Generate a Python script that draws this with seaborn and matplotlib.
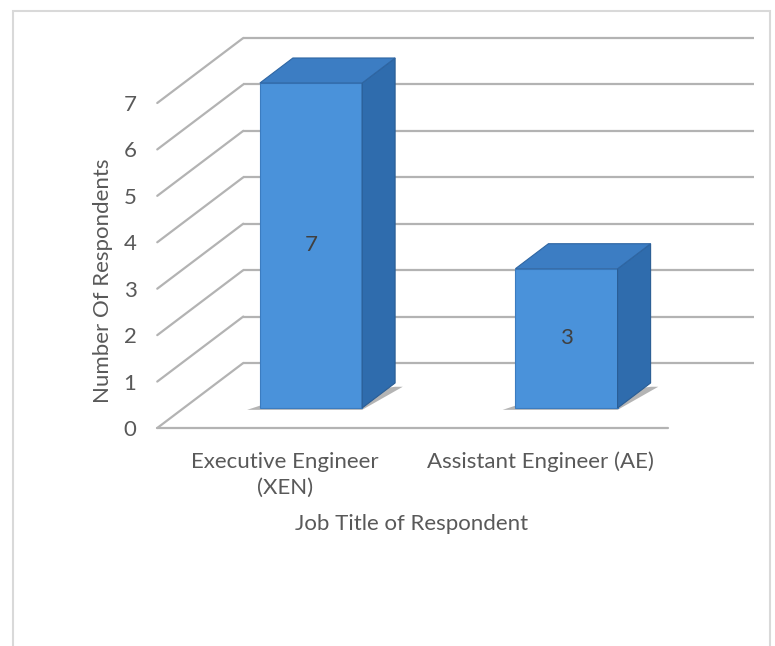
import numpy as np
import seaborn as sns
import matplotlib.pyplot as plt
from matplotlib.patches import Polygon, Rectangle

job_titles = ['Executive Engineer\n(XEN)', 'Assistant Engineer (AE)']
respondents = [7, 3]
y_ticks = [0, 1, 2, 3, 4, 5, 6, 7]

sns.set_style('white')
plt.rcParams['font.family'] = ['Lato', 'DejaVu Sans']
text_col = '#595959'
grid_col = '#b3b3b3'
fs = 16

# pixel scale of the fake 3d view (front plane of the bars)
cat_px, unit_px = 255.5, 46.43
bar_dx, bar_dy = 33 / cat_px, 25 / unit_px        # bar depth
wall_dx, wall_dy = 60 / cat_px, 45 / unit_px      # back wall
floor_dx, floor_dy = -26 / cat_px, -20 / unit_px  # front edge of floor

xlim = (-0.5 + floor_dx, 1.75)
ylim = (floor_dy, 8.2)
x0_px, y0_px = 311, 408
left = x0_px + xlim[0] * cat_px
right = x0_px + xlim[1] * cat_px
bottom = y0_px - ylim[0] * unit_px
top = y0_px - ylim[1] * unit_px

fig = plt.figure(figsize=(7.75, 6.46), dpi=100)
ax = fig.add_axes([left / 775, 1 - bottom / 646, (right - left) / 775, (bottom - top) / 646])

sns.barplot(x=job_titles, y=respondents, width=0.4, color='#4a92da', saturation=1,
            edgecolor='#3b7cc0', linewidth=0.8, ax=ax, zorder=3)

# back wall and side wall gridlines
for v in y_ticks:
    ax.plot([-0.5 + wall_dx, 1.5 + wall_dx], [v + wall_dy, v + wall_dy],
            color=grid_col, lw=1.6, zorder=1, solid_capstyle='butt')
    ax.plot([-0.5 + floor_dx, -0.5 + wall_dx], [v + floor_dy, v + wall_dy],
            color=grid_col, lw=1.6, zorder=1, clip_on=False)
ax.plot([-0.5 + floor_dx, 1.5 + floor_dx], [floor_dy, floor_dy],
        color=grid_col, lw=1.6, zorder=1, clip_on=False)

# shadow, top and side faces of each bar
for p in ax.patches[:len(respondents)]:
    x, w, h = p.get_x(), p.get_width(), p.get_height()
    shadow = Polygon([(x - 0.05, -0.04), (x + w, -0.04), (x + w + bar_dx + 0.03, bar_dy * 0.85),
                      (x + w + bar_dx, bar_dy * 0.85), (x, 0.05)], closed=True,
                     color='#2a2a2a', alpha=0.35, lw=0, zorder=2)
    ax.add_patch(shadow)
    side = Polygon([(x + w, 0), (x + w + bar_dx, bar_dy), (x + w + bar_dx, h + bar_dy), (x + w, h)],
                   closed=True, facecolor='#2f6cad', edgecolor='#2a5d94', lw=0.8, zorder=3)
    topf = Polygon([(x, h), (x + w, h), (x + w + bar_dx, h + bar_dy), (x + bar_dx, h + bar_dy)],
                   closed=True, facecolor='#3c7dc3', edgecolor='#2f66a3', lw=0.8, zorder=3)
    ax.add_patch(side)
    ax.add_patch(topf)

ax.bar_label(ax.containers[0], label_type='center', color='#404040', fontsize=fs)

ax.set_xlim(*xlim)
ax.set_ylim(*ylim)
ax.set_yticks(np.array(y_ticks) + floor_dy, labels=[str(v) for v in y_ticks])
ax.set_xticks(np.arange(len(job_titles)) + floor_dx, labels=job_titles)
ax.tick_params(axis='y', length=0, pad=15, labelsize=fs, labelcolor=text_col)
ax.tick_params(axis='x', length=0, pad=17, labelsize=fs, labelcolor=text_col)
for t in ax.get_xticklabels():
    t.set_linespacing(1.4)
ax.set_ylabel('Number Of Respondents', fontsize=fs, color=text_col)
ax.set_xlabel('Job Title of Respondent', fontsize=fs, color=text_col)
ax.yaxis.set_label_coords((113 - left) / (right - left), (bottom - 281) / (bottom - top))
ax.xaxis.set_label_coords((412 - left) / (right - left), (bottom - 514) / (bottom - top))
for s in ax.spines.values():
    s.set_visible(False)

fig.patches.append(Rectangle((13 / 775, -0.05), (770 - 13) / 775, 1.05 - 11 / 646,
                             transform=fig.transFigure, fill=False, edgecolor='#d9d9d9', lw=1.5))

fig.savefig('out.png', dpi=100)
